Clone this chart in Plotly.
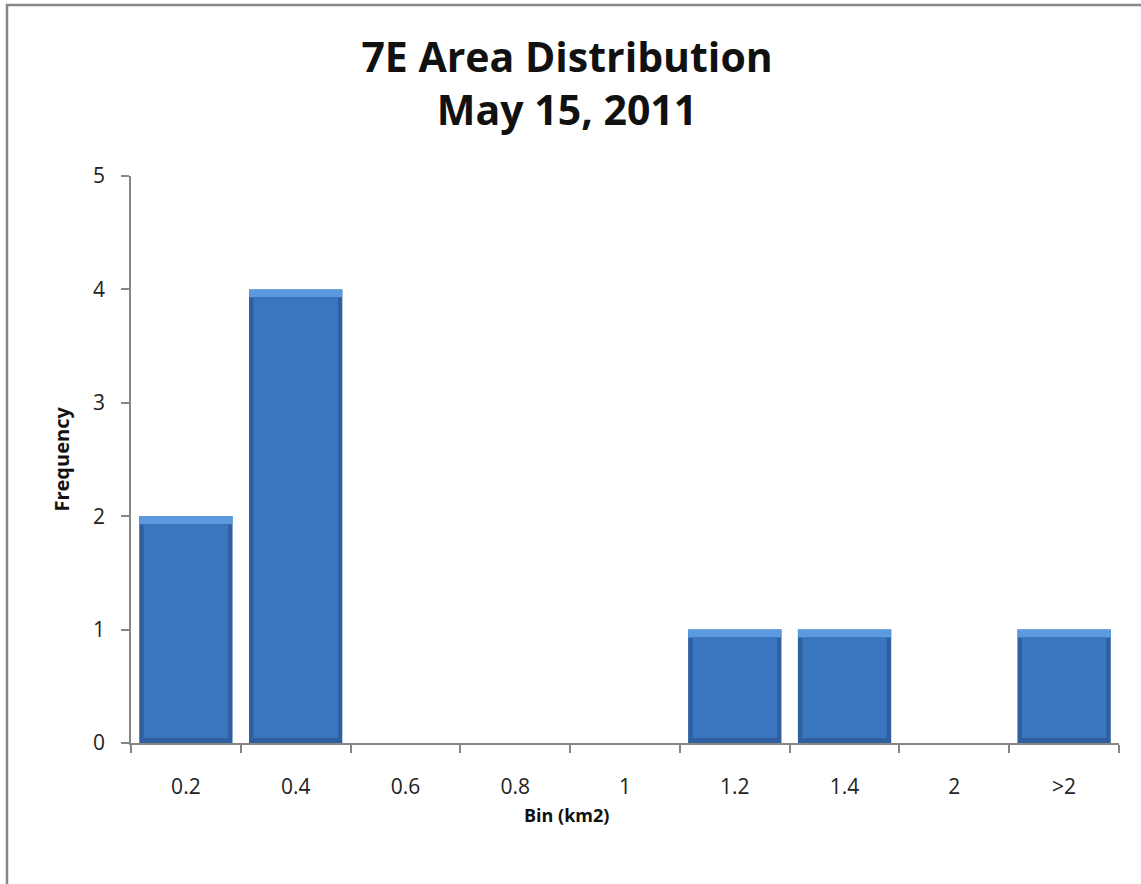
import plotly.graph_objects as go

# Histogram data: area bins (km2) and counts
bins = ["0.2", "0.4", "0.6", "0.8", "1", "1.2", "1.4", "2", ">2"]
frequency = [2, 4, 0, 0, 0, 1, 1, 0, 1]

title_lines = ["7E Area Distribution", "May 15, 2011"]
x_title = "Bin (km2)"
y_title = "Frequency"

FONT = "'Open Sans', sans-serif"
AXIS_GREY = "#868686"

# bevel geometry in data units
bar_w = 0.85
inner_w = 0.77
top_bevel = 0.07
bottom_bevel = 0.045

fig = go.Figure()

# darker outer body (side and bottom bevel)
fig.add_trace(go.Bar(
    x=bins, y=frequency, width=bar_w,
    marker=dict(color="#2f5f9e", line=dict(width=0)),
    hoverinfo="x+y", showlegend=False,
))

# light top bevel strip
fig.add_trace(go.Bar(
    x=bins,
    y=[top_bevel if v > 0 else 0 for v in frequency],
    base=[v - top_bevel if v > 0 else 0 for v in frequency],
    width=bar_w,
    marker=dict(color="#5c9ae0", line=dict(width=0)),
    hoverinfo="skip", showlegend=False,
))

# main face of each bar
fig.add_trace(go.Bar(
    x=bins,
    y=[v - top_bevel - bottom_bevel if v > 0 else 0 for v in frequency],
    base=[bottom_bevel if v > 0 else 0 for v in frequency],
    width=inner_w,
    marker=dict(color="#3a75c0", line=dict(width=0)),
    hoverinfo="skip", showlegend=False,
))

fig.update_layout(
    width=1141, height=884,
    margin=dict(l=131, r=22, t=176, b=141),
    paper_bgcolor="white", plot_bgcolor="white",
    barmode="overlay",
    font=dict(family=FONT, color="#222222"),
    title=dict(
        text="<b>" + "<br>".join(title_lines) + "</b>",
        x=0.497, xanchor="center", xref="container",
        y=1 - 72 / 884, yanchor="middle", yref="container",
        font=dict(size=41, color="#111111", family=FONT),
    ),
    xaxis=dict(
        type="category",
        showline=True, linecolor=AXIS_GREY, linewidth=1.5,
        ticks="outside", tickson="boundaries", ticklen=8,
        tickcolor=AXIS_GREY, tickwidth=1.5,
        tickfont=dict(size=21, color="#222222"),
        ticklabelstandoff=24,
        showgrid=False, zeroline=False,
        range=[-0.5, len(bins) - 0.5],
    ),
    yaxis=dict(
        range=[0, 5], dtick=1,
        showline=True, linecolor=AXIS_GREY, linewidth=1.5,
        ticks="outside", ticklen=8, tickcolor=AXIS_GREY, tickwidth=1.5,
        tickfont=dict(size=21, color="#222222"),
        ticklabelstandoff=12,
        showgrid=False, zeroline=False,
    ),
    annotations=[
        dict(text="<b>" + y_title + "</b>", textangle=-90,
             xref="paper", yref="paper",
             x=(61 - 131) / 988, y=0.5,
             xanchor="center", yanchor="middle", showarrow=False,
             font=dict(size=20, color="#111111", family=FONT)),
        dict(text="<b>" + x_title + "</b>",
             xref="paper", yref="paper",
             x=(566 - 131) / 988, y=(743 - 815) / 567,
             xanchor="center", yanchor="middle", showarrow=False,
             font=dict(size=18, color="#111111", family=FONT)),
    ],
    shapes=[
        dict(type="rect", xref="paper", yref="paper",
             x0=(7 - 131) / 988, x1=(1150 - 131) / 988,
             y0=(743 - 895) / 567, y1=(743 - 5) / 567,
             line=dict(color="#878787", width=2.5),
             fillcolor="rgba(0,0,0,0)", layer="below"),
    ],
)

fig.write_html("out.html")
